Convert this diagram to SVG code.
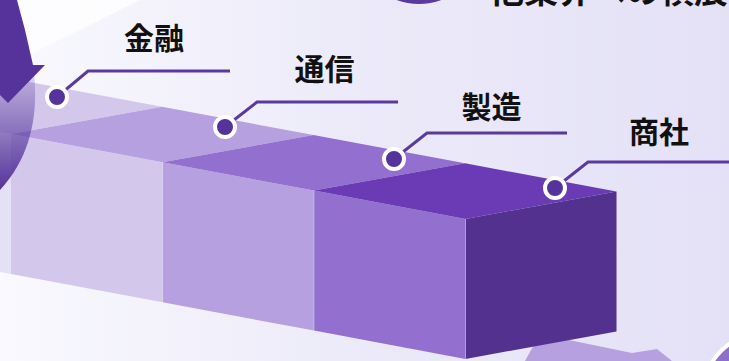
<svg xmlns="http://www.w3.org/2000/svg" width="729" height="361" viewBox="0 0 729 361">
<defs>
<linearGradient id="bg" x1="0" y1="0" x2="729" y2="0" gradientUnits="userSpaceOnUse">
<stop offset="0" stop-color="#f9f9fe"/>
<stop offset="0.5" stop-color="#eceaf9"/>
<stop offset="1" stop-color="#e4e1f7"/>
</linearGradient>
<linearGradient id="cres" x1="0" y1="65" x2="0" y2="190" gradientUnits="userSpaceOnUse">
<stop offset="0" stop-color="#55339a" stop-opacity="0.1"/>
<stop offset="1" stop-color="#55339a" stop-opacity="1"/>
</linearGradient>
<style>
.lbl{font-family:"Noto Sans CJK JP","Noto Sans CJK SC",sans-serif;font-weight:700;font-size:30px;fill:#111;text-anchor:middle}
.lead{fill:none;stroke:#5b3a9f;stroke-width:3}
.dot{fill:#55339a;stroke:#fff;stroke-width:4}
</style>
</defs>
<rect width="729" height="361" fill="url(#bg)"/>
<polygon points="0,0 140,0 33,53 0,70" fill="#ffffff" opacity="0.75"/>
<g id="header">
<circle cx="419" cy="-61" r="65" fill="#5b3a9f"/>
<text x="490" y="3" style="font-family:'Noto Sans CJK JP','Noto Sans CJK SC',sans-serif;font-weight:700;font-size:34px;fill:#111">他業界への横展開</text>
</g>
<g id="band">
<polygon points="540,334 632,353 657,349 672,361 525,361" fill="#b6a0e0"/>
<circle cx="762" cy="392" r="58" fill="#8f6fcc" stroke="#fff" stroke-width="4"/>
</g>
<g id="boxes">
<polygon points="-140.5,105.7 11,134 11,274 -140.5,245.7" fill="#e4e0f5"/>
<polygon points="-140.5,105.7 11,134 162,106.7 10.5,78.4" fill="#d3c8ec"/>
<polygon points="11,134 162.5,162.3 162.5,302.3 11,274" fill="#d3c8ec"/>
<polygon points="11,134 162.5,162.3 313.5,135 162,106.7" fill="#b6a0e0"/>
<polygon points="162.5,162.3 314,190.6 314,330.6 162.5,302.3" fill="#b6a0e0"/>
<polygon points="162.5,162.3 314,190.6 465,163.3 313.5,135" fill="#9370cf"/>
<polygon points="314,190.6 465.5,218.9 465.5,358.9 314,330.6" fill="#9370cf"/>
<polygon points="314,190.6 465.5,218.9 616.5,191.6 465,163.3" fill="#6a3bb4"/>
<polygon points="465.5,218.9 616.5,191.6 616.5,331.6 465.5,358.9" fill="#52318f"/>
<line x1="162.5" y1="162.3" x2="162.5" y2="302.3" stroke="#fff" stroke-opacity="0.3" stroke-width="1"/>
<line x1="314" y1="190.6" x2="314" y2="330.6" stroke="#fff" stroke-opacity="0.3" stroke-width="1"/>
<line x1="465.5" y1="218.9" x2="465.5" y2="358.9" stroke="#fff" stroke-opacity="0.35" stroke-width="1"/>
</g>
<g id="arrow">
<path d="M -20,65 L 33,65 C 38,100 37,150 0,190 L -20,190 Z" fill="url(#cres)"/>
<polygon points="-20,0 17,0 25,30 33,65 -20,65" fill="#55339a"/>
<polygon points="-30,65 45,65 8,103" fill="#55339a"/>
</g>
<g id="connectors">
<polyline class="lead" points="57,97 88,71 230,71"/>
<polyline class="lead" points="225,127 257,102 398,102"/>
<polyline class="lead" points="394,159 427,133 567,133"/>
<polyline class="lead" points="555,188 588,162 732,162"/>
</g>
<g id="n1"><circle class="dot" cx="57" cy="97" r="10"/><text class="lbl" x="154" y="49">金融</text></g>
<g id="n2"><circle class="dot" cx="225" cy="127" r="10"/><text class="lbl" x="324.5" y="80">通信</text></g>
<g id="n3"><circle class="dot" cx="394" cy="159" r="10"/><text class="lbl" x="491.5" y="118">製造</text></g>
<g id="n4"><circle class="dot" cx="555" cy="188" r="10"/><text class="lbl" x="659" y="143">商社</text></g>
</svg>
